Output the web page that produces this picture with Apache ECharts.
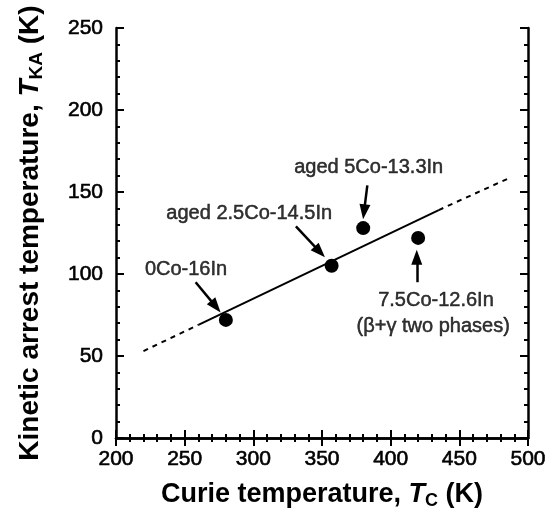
<!DOCTYPE html>
<html>
<head>
<meta charset="utf-8">
<script src="https://cdn.jsdelivr.net/npm/echarts@6/dist/echarts.min.js"></script>
<style>
  html, body { margin: 0; padding: 0; background: #fff; }
  #main { width: 555px; height: 525px; }
</style>
</head>
<body>
<div id="main"></div>
<script>
var myChart = echarts.init(document.getElementById('main'));

// measured points
var tcVals = [280, 357, 380, 420];
var tkaVals = [72, 105, 128, 122];

// fitted line: dashed - solid - dashed
var fitX = [220, 260, 435, 485];
var fitY = [53, 69, 139, 158];

// annotation texts and where they sit (data units)
var noteText = ['0Co-16In', 'aged 2.5Co-14.5In', 'aged 5Co-13.3In', '7.5Co-12.6In', '(β+γ two phases)'];
var noteX = [251, 297, 384, 433, 431];
var noteY = [103, 137, 165, 84, 68];

// arrows (start, end) in data units
var arrowFrom = [[258, 95], [331, 129], [383, 154], [419, 95]];
var arrowTo = [[272.7, 80.1], [348.4, 113.5], [380.6, 137.9], [419, 110.2]];

var font = 'Liberation Sans, Arial, Helvetica, sans-serif';

function seg(i, j) {
    var arr = [];
    for (var k = i; k <= j; k++) arr.push([fitX[k], fitY[k]]);
    return arr;
}

var pts = tcVals.map(function (v, i) { return [v, tkaVals[i]]; });
var notes = noteText.map(function (t, i) { return { name: t, value: [noteX[i], noteY[i]] }; });
var arrows = arrowFrom.map(function (a, i) {
    return [{ coord: a }, { coord: arrowTo[i] }];
});

var axisCommon = {
    axisLine: { lineStyle: { color: '#000', width: 2.5 } },
    axisTick: { inside: true, length: 8, lineStyle: { color: '#000', width: 2 } },
    minorTick: { show: true, splitNumber: 5, length: 4, lineStyle: { color: '#000', width: 2 } },
    splitLine: { show: false }
};

function nameRich(size) {
    return {
        b: { fontFamily: font, fontWeight: 'bold', fontSize: size, color: '#000' },
        it: { fontFamily: font, fontWeight: 'bold', fontStyle: 'italic', fontSize: size, color: '#000' },
        sub: { fontFamily: font, fontWeight: 'bold', fontSize: Math.round(size * 0.67), color: '#000', padding: [12, 0, 0, 0] }
    };
}

var tickLabel = {
    fontFamily: font, fontSize: 21, color: '#000',
    textBorderColor: '#000', textBorderWidth: 0.6
};

option = {
    animation: false,
    backgroundColor: '#fff',
    grid: { left: 116, right: 27, top: 28, bottom: 87 },
    xAxis: [
        Object.assign({
            type: 'value', min: 200, max: 500, interval: 50, position: 'bottom',
            name: '{b|Curie temperature, }{it|T}{sub|C}{b| (K)}',
            nameLocation: 'middle', nameGap: 42,
            nameTextStyle: { rich: nameRich(27) },
            axisLabel: Object.assign({ margin: 11 }, tickLabel)
        }, axisCommon),
        Object.assign({
            type: 'value', min: 200, max: 500, interval: 50, position: 'top',
            axisLabel: { show: false }
        }, axisCommon)
    ],
    yAxis: [
        Object.assign({
            type: 'value', min: 0, max: 250, interval: 50, position: 'left',
            name: '{b|Kinetic arrest temperature, }{it|T}{sub|KA}{b| (K)}',
            nameLocation: 'middle', nameGap: 70,
            nameTextStyle: { rich: nameRich(28) },
            axisLabel: Object.assign({ margin: 13 }, tickLabel)
        }, axisCommon),
        Object.assign({
            type: 'value', min: 0, max: 250, interval: 50, position: 'right',
            axisLabel: { show: false }
        }, axisCommon)
    ],
    series: [
        {
            type: 'line', data: seg(0, 1), symbol: 'none',
            lineStyle: { color: '#000', width: 2, type: [5, 5] }
        },
        {
            type: 'line', data: seg(1, 2), symbol: 'none',
            lineStyle: { color: '#000', width: 2, type: 'solid' }
        },
        {
            type: 'line', data: seg(2, 3), symbol: 'none',
            lineStyle: { color: '#000', width: 2, type: [5, 5] }
        },
        {
            type: 'scatter', data: pts, symbol: 'circle', symbolSize: 14,
            itemStyle: { color: '#000', opacity: 1 }
        },
        {
            type: 'scatter', data: notes, symbolSize: 0, silent: true,
            label: {
                show: true, position: 'inside', formatter: '{b}',
                fontFamily: font, fontSize: 20, color: '#000',
                textBorderColor: '#000', textBorderWidth: 0.5
            },
            markLine: {
                silent: true,
                symbol: ['none', 'triangle'],
                symbolSize: [11, 15],
                label: { show: false },
                lineStyle: { color: '#000', width: 2.5, type: 'solid' },
                data: arrows
            }
        }
    ]
};

myChart.setOption(option);
</script>
</body>
</html>
